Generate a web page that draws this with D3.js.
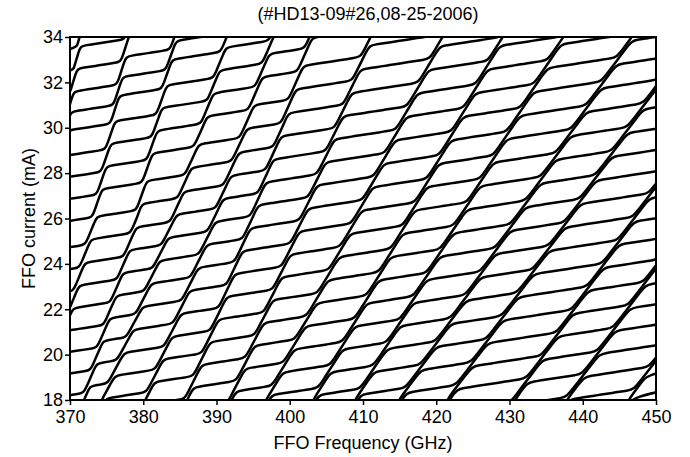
<!DOCTYPE html>
<html>
<head>
<meta charset="utf-8">
<script src="https://cdn.jsdelivr.net/npm/d3@7"></script>
<style>
body { margin: 0; background: #fff; }
text { font-family: Arial, "Liberation Sans", sans-serif; fill: #000; }
</style>
</head>
<body>
<div id="chart"></div>
<script>
var w = 690;
var h = 457;
var margin = {top: 37, right: 34, bottom: 57, left: 70};

var title = "(#HD13-09#26,08-25-2006)";
var xLabel = "FFO Frequency (GHz)";
var yLabel = "FFO current (mA)";
var xTicks = [370, 380, 390, 400, 410, 420, 430, 440, 450];
var yTicks = [18, 20, 22, 24, 26, 28, 30, 32, 34];

// diagonal bands (where every curve climbs): frequency at these currents
var bandCurrents = [6, 18, 22, 26, 30, 34, 40];
var bands = [
  [348.5, 359.5, 363.5, 366.8, 369.2, 371.0, 373.6],
  [355.0, 366.0, 369.8, 373.0, 375.4, 377.5, 380.2],
  [360.6, 371.6, 375.2, 378.8, 381.4, 384.0, 387.5],
  [363.2, 374.2, 379.2, 383.8, 387.7, 391.1, 396.0],
  [369.0, 380.0, 384.8, 389.4, 393.6, 397.3, 402.5],
  [374.6, 385.6, 390.2, 394.5, 398.6, 402.5, 408.0],
  [380.6, 391.6, 396.6, 401.4, 406.1, 410.7, 417.5],
  [385.6, 396.6, 402.7, 408.7, 414.6, 420.5, 429.5],
  [392.0, 403.0, 409.5, 415.9, 422.3, 428.7, 438.3],
  [397.7, 408.7, 415.8, 422.9, 429.9, 437.0, 447.5],
  [403.7, 414.7, 422.7, 430.6, 438.5, 446.4, 458.0],
  [410.3, 421.3, 429.5, 437.8, 446.0, 454.2, 466.0],
  [419.3, 430.3, 438.5, 446.7, 454.9, 463.0, 475.0],
  [426.5, 437.5, 445.8, 454.0, 462.3, 470.5, 483.0],
  [435.0, 446.0, 454.3, 462.5, 470.8, 479.0, 491.0]
];
// current gained by a curve on its climb through each band (mA)
var bandRise = [1.25, 1.25, 1.3, 1.35, 1.45, 1.5, 1.55, 1.6, 1.7, 1.75, 1.8, 1.85, 1.85, 1.9, 1.9];
// slope of the flat parts (mA/GHz) and how far a climb leans right of the band (GHz)
var flatSlope = 0.05;
var climbShift = 0.6;
// current at which each curve starts its climb on band 1 (the second band);
// the low ones climb it below the axis, the high ones above it
var climbStarts = [-9.2, -8.2, -7.2, -6.2, -5.2, -4.2, -3.2, -2.2, -1.2, -0.2,
                   0.8, 1.8, 2.8, 3.8, 4.8, 5.8, 6.8, 7.8, 8.8, 9.8,
                   10.8, 11.8, 12.8, 13.8, 14.8, 15.8, 16.8, 17.8, 18.8, 19.8,
                   20.8, 21.8, 22.8,
                   23.83, 24.84, 26.05, 27.05, 28.05, 29.04, 30.17, 30.99, 31.89,
                   32.9, 33.9, 34.9, 35.9];

var x = d3.scaleLinear().domain([370, 450]).range([margin.left, w - margin.right]);
var y = d3.scaleLinear().domain([18, 34]).range([h - margin.bottom, margin.top]);

var bandFns = bands.map(function(b) {
  return d3.scaleLinear().domain(bandCurrents).range(b);
});

function climbPts(j, I1) {
  var b = bandFns[j], pts = [];
  for (var t = 0; t <= 4; t++) {
    var ii = I1 + bandRise[j] * t / 4;
    pts.push([b(ii) + climbShift * t / 4, ii]);
  }
  return pts;
}

// inner points of a flat between f0 and f1 (either order), about 1 GHz apart
function flatPts(f0, I0, f1) {
  var pts = [], n = Math.max(1, Math.ceil(Math.abs(f1 - f0) / 1.0));
  for (var i = 1; i < n; i++) {
    var ff = f0 + (f1 - f0) * i / n;
    pts.push([ff, I0 + flatSlope * (ff - f0)]);
  }
  return pts;
}

// from the end of a climb, go right
function forward(f, I) {
  var pts = [];
  for (var n = 0; n < 80; n++) {
    if (I > 36 || f > 455) break;
    var best = null;
    bandFns.forEach(function(b, j) {
      var xx = b(I);
      for (var k = 0; k < 40; k++) xx = b(I + flatSlope * (xx - f));
      if (xx > f + 1e-6 && (best === null || xx < best.x)) best = {x: xx, j: j};
    });
    if (best === null) {
      pts.push([f + 40, I + 40 * flatSlope]);
      break;
    }
    pts = pts.concat(flatPts(f, I, best.x));
    var I1 = I + flatSlope * (best.x - f);
    pts = pts.concat(climbPts(best.j, I1));
    I = I1 + bandRise[best.j];
    f = bandFns[best.j](I) + climbShift;
  }
  return pts;
}

// from the start of a climb, go left (points come back in left-to-right order)
function backward(f, I) {
  var pts = [];
  for (var n = 0; n < 80; n++) {
    if (I < 16 || f < 366) break;
    var best = null;
    bandFns.forEach(function(b, j) {
      var xx = b(I) + climbShift;
      for (var k = 0; k < 40; k++) xx = b(I - flatSlope * (f - xx)) + climbShift;
      if (xx < f - 1e-6 && (best === null || xx > best.x)) best = {x: xx, j: j};
    });
    if (best === null) {
      pts.unshift([f - 40, I - 40 * flatSlope]);
      break;
    }
    var I2 = I - flatSlope * (f - best.x);
    pts = flatPts(best.x, I2, f).concat(pts);
    pts = climbPts(best.j, I2 - bandRise[best.j]).concat(pts);
    I = I2 - bandRise[best.j];
    f = bandFns[best.j](I);
  }
  return pts;
}

var curves = climbStarts.map(function(v) {
  var up = climbPts(1, v);
  var end = up[up.length - 1];
  return backward(bandFns[1](v), v).concat(up).concat(forward(end[0], end[1]));
});

var svg = d3.select("#chart")
  .append("svg")
  .attr("width", w)
  .attr("height", h);

svg.append("rect").attr("width", w).attr("height", h).attr("fill", "#fff");

svg.append("clipPath").attr("id", "plot-clip")
  .append("rect")
  .attr("x", margin.left)
  .attr("y", margin.top)
  .attr("width", w - margin.left - margin.right)
  .attr("height", h - margin.top - margin.bottom);

var line = d3.line()
  .curve(d3.curveBasis)
  .x(function(d) { return x(d[0]); })
  .y(function(d) { return y(d[1]); });

svg.append("g")
  .attr("clip-path", "url(#plot-clip)")
  .selectAll("path")
  .data(curves)
  .enter()
  .append("path")
  .attr("d", line)
  .attr("fill", "none")
  .attr("stroke", "#000")
  .attr("stroke-width", 2.5)
  .attr("stroke-linejoin", "round");

// axes
var xAxis = svg.append("g")
  .attr("transform", "translate(0," + (h - margin.bottom) + ")")
  .call(d3.axisBottom(x).tickValues(xTicks).tickSize(5).tickSizeOuter(0).tickPadding(5));
var yAxis = svg.append("g")
  .attr("transform", "translate(" + margin.left + ",0)")
  .call(d3.axisLeft(y).tickValues(yTicks).tickSize(5).tickSizeOuter(0).tickPadding(2));
[xAxis, yAxis].forEach(function(g) {
  g.select(".domain").remove();
  g.selectAll("line").attr("stroke", "#000").attr("stroke-width", 1.5);
  g.selectAll("text").style("font-size", "18px").style("font-family", "Arial, 'Liberation Sans', sans-serif");
});

svg.append("rect")
  .attr("x", margin.left)
  .attr("y", margin.top)
  .attr("width", w - margin.left - margin.right)
  .attr("height", h - margin.top - margin.bottom)
  .attr("fill", "none")
  .attr("stroke", "#000")
  .attr("stroke-width", 2);

svg.append("text")
  .attr("x", 368)
  .attr("y", 20)
  .attr("text-anchor", "middle")
  .style("font-size", "18px")
  .text(title);

svg.append("text")
  .attr("x", (margin.left + w - margin.right) / 2)
  .attr("y", 449)
  .attr("text-anchor", "middle")
  .style("font-size", "18px")
  .text(xLabel);

svg.append("text")
  .attr("transform", "translate(35," + ((margin.top + h - margin.bottom) / 2) + ") rotate(-90)")
  .attr("text-anchor", "middle")
  .style("font-size", "18px")
  .text(yLabel);
</script>
</body>
</html>
